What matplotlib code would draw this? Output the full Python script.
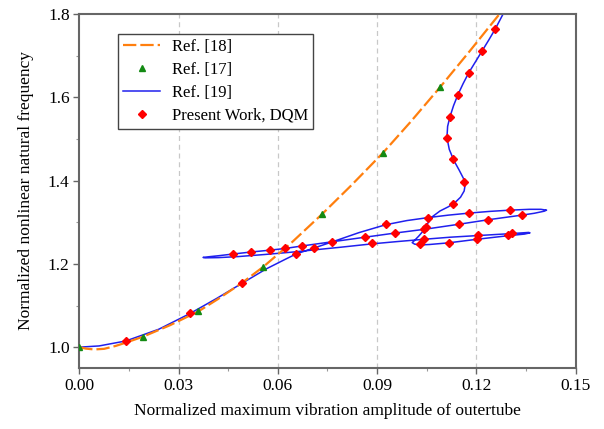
import numpy as np
import matplotlib
matplotlib.use("Agg")
import matplotlib.pyplot as plt
from matplotlib.ticker import MultipleLocator

plt.rcParams['font.family'] = ['Liberation Serif', 'DejaVu Serif']

# Ref. [18] - dashed curve
ref18_x = [0.0, 0.002, 0.0045, 0.0075, 0.011, 0.0141, 0.0192, 0.0275, 0.036, 0.042,
           0.0491, 0.0556, 0.064, 0.0733, 0.082, 0.0917, 0.100, 0.109, 0.118, 0.1275]
ref18_y = [1.0, 0.9965, 0.9945, 0.996, 1.003, 1.011, 1.025, 1.053, 1.086, 1.116,
           1.154, 1.193, 1.250, 1.319, 1.387, 1.466, 1.540, 1.624, 1.711, 1.805]

# Ref. [17] - triangles
ref17_x = [0.0, 0.0192, 0.0360, 0.0556, 0.0733, 0.0917, 0.1090]
ref17_y = [1.0, 1.025, 1.086, 1.193, 1.319, 1.466, 1.624]

# Ref. [19] - solid curve with loops (traced in order)
ref19_x = [0.0, 0.006, 0.0141, 0.024, 0.0335, 0.0415, 0.0491, 0.0565, 0.0625, 0.0656,
           0.0709, 0.0765, 0.0845, 0.0926, 0.0990, 0.1053, 0.1115, 0.1179, 0.1240, 0.1302,
           0.1360, 0.1395, 0.1412, 0.1405, 0.1375, 0.1337, 0.1236, 0.1146, 0.1043, 0.0954,
           0.0863, 0.0673, 0.0622, 0.0577, 0.0519, 0.0463, 0.0420, 0.0390, 0.0374, 0.0380,
           0.0420, 0.0480, 0.0560, 0.0640, 0.0709, 0.0790, 0.0884, 0.0960, 0.1041, 0.1120,
           0.1205, 0.1280, 0.1330, 0.1358, 0.1362, 0.1345, 0.1294, 0.1201, 0.1116, 0.1058,
           0.1030, 0.1013, 0.1006, 0.1012, 0.1025, 0.1037, 0.1046, 0.1055, 0.1068, 0.1090,
           0.1115, 0.1135, 0.1152, 0.1163, 0.1166, 0.1161, 0.1148, 0.1132, 0.1118, 0.1111,
           0.1113, 0.1120, 0.1131, 0.1144, 0.1160, 0.1177, 0.1197, 0.1217, 0.1237, 0.1257,
           0.1284]
ref19_y = [1.0, 1.003, 1.015, 1.043, 1.081, 1.117, 1.153, 1.188, 1.212, 1.224,
           1.238, 1.253, 1.275, 1.294, 1.304, 1.311, 1.317, 1.322, 1.326, 1.329,
           1.331, 1.331, 1.329, 1.3265, 1.3215, 1.317, 1.306, 1.295, 1.283, 1.274,
           1.264, 1.243, 1.237, 1.233, 1.2285, 1.2235, 1.2195, 1.217, 1.2155, 1.2145,
           1.2150, 1.2175, 1.2225, 1.228, 1.2335, 1.240, 1.248, 1.2535, 1.259, 1.264,
           1.268, 1.2715, 1.274, 1.2755, 1.2745, 1.2715, 1.2675, 1.259, 1.2505, 1.2465,
           1.2455, 1.2475, 1.2510, 1.2555, 1.266, 1.277, 1.287, 1.300, 1.314, 1.327,
           1.337, 1.347, 1.360, 1.375, 1.390, 1.405, 1.425, 1.448, 1.475, 1.503,
           1.530, 1.553, 1.580, 1.606, 1.633, 1.659, 1.685, 1.711, 1.737, 1.764,
           1.805]

# Present work, DQM - diamonds
dqm_x = [0.0141, 0.0335, 0.0491, 0.0656, 0.0463, 0.0519, 0.0577, 0.0622, 0.0673, 0.0709,
         0.0765, 0.0863, 0.0926, 0.0954, 0.0884, 0.1053, 0.1048, 0.1043, 0.1041, 0.1030,
         0.1179, 0.1302, 0.1337, 0.1236, 0.1146, 0.1205, 0.1294, 0.1309, 0.1201, 0.1116,
         0.1129, 0.1162, 0.1129, 0.1112, 0.1120, 0.1144, 0.1177, 0.1217, 0.1257]
dqm_y = [1.015, 1.083, 1.154, 1.224, 1.223, 1.229, 1.233, 1.237, 1.243, 1.238,
         1.253, 1.265, 1.295, 1.275, 1.249, 1.311, 1.289, 1.283, 1.259, 1.247,
         1.323, 1.330, 1.317, 1.306, 1.295, 1.269, 1.269, 1.275, 1.259, 1.250,
         1.343, 1.397, 1.451, 1.503, 1.553, 1.606, 1.659, 1.711, 1.764]

x_ticks = [0.00, 0.03, 0.06, 0.09, 0.12, 0.15]
y_ticks = [1.0, 1.2, 1.4, 1.6, 1.8]


def main():
    fig = plt.figure(figsize=(6.04, 4.29), dpi=100)
    ax = fig.add_axes([0.1313, 0.1422, 0.8218, 0.8252])

    for xt in x_ticks[1:-1]:
        ax.axvline(xt, color='#c8c8c8', lw=0.9, ls=(0, (4, 3)), zorder=0)

    ax.plot(ref19_x, ref19_y, color='#2020ee', lw=1.1, zorder=2, label='Ref. [19]')
    ax.plot(ref18_x, ref18_y, color='#ff7f0e', lw=1.6, ls=(0, (6, 1.8)), zorder=3,
            label='Ref. [18]')
    ax.plot(ref17_x, ref17_y, ls='none', marker='^', ms=5, color='#138a13', zorder=4,
            label='Ref. [17]')
    ax.plot(dqm_x, dqm_y, ls='none', marker='D', ms=3.8, color='#ff0000', zorder=5,
            label='Present Work, DQM')

    ax.set_xlim(0.0, 0.15)
    ax.set_ylim(0.95, 1.8)
    ax.set_xticks(x_ticks)
    ax.set_yticks(y_ticks)
    ax.set_xticklabels(['%.2f' % v for v in x_ticks])
    ax.set_yticklabels(['%.1f' % v for v in y_ticks])
    ax.xaxis.set_minor_locator(MultipleLocator(0.015))
    ax.yaxis.set_minor_locator(MultipleLocator(0.1))
    ax.tick_params(which='major', direction='out', length=4, width=1, color='#666666',
                   labelsize=12.5, pad=3)
    ax.tick_params(which='minor', direction='out', length=2, width=0.8, color='#999999')
    for sp in ax.spines.values():
        sp.set_color('#666666')
        sp.set_linewidth(1.5)

    ax.set_xlabel('Normalized maximum vibration amplitude of outertube', fontsize=12.5,
                  labelpad=7)
    ax.set_ylabel('Normalized nonlinear natural frequency', fontsize=12.5, labelpad=10)

    h, l = ax.get_legend_handles_labels()
    order = [1, 2, 0, 3]
    leg = ax.legend([h[i] for i in order], [l[i] for i in order],
                    loc='upper left', bbox_to_anchor=(0.0786, 0.9435), borderaxespad=0,
                    fontsize=12, numpoints=1, handlelength=2.2, handletextpad=0.7,
                    labelspacing=0.42, borderpad=0.3, fancybox=False, framealpha=1)
    leg.get_frame().set_edgecolor('#444444')
    leg.get_frame().set_linewidth(1.0)

    fig.savefig('out.png', dpi=100)


if __name__ == "__main__":
    main()
